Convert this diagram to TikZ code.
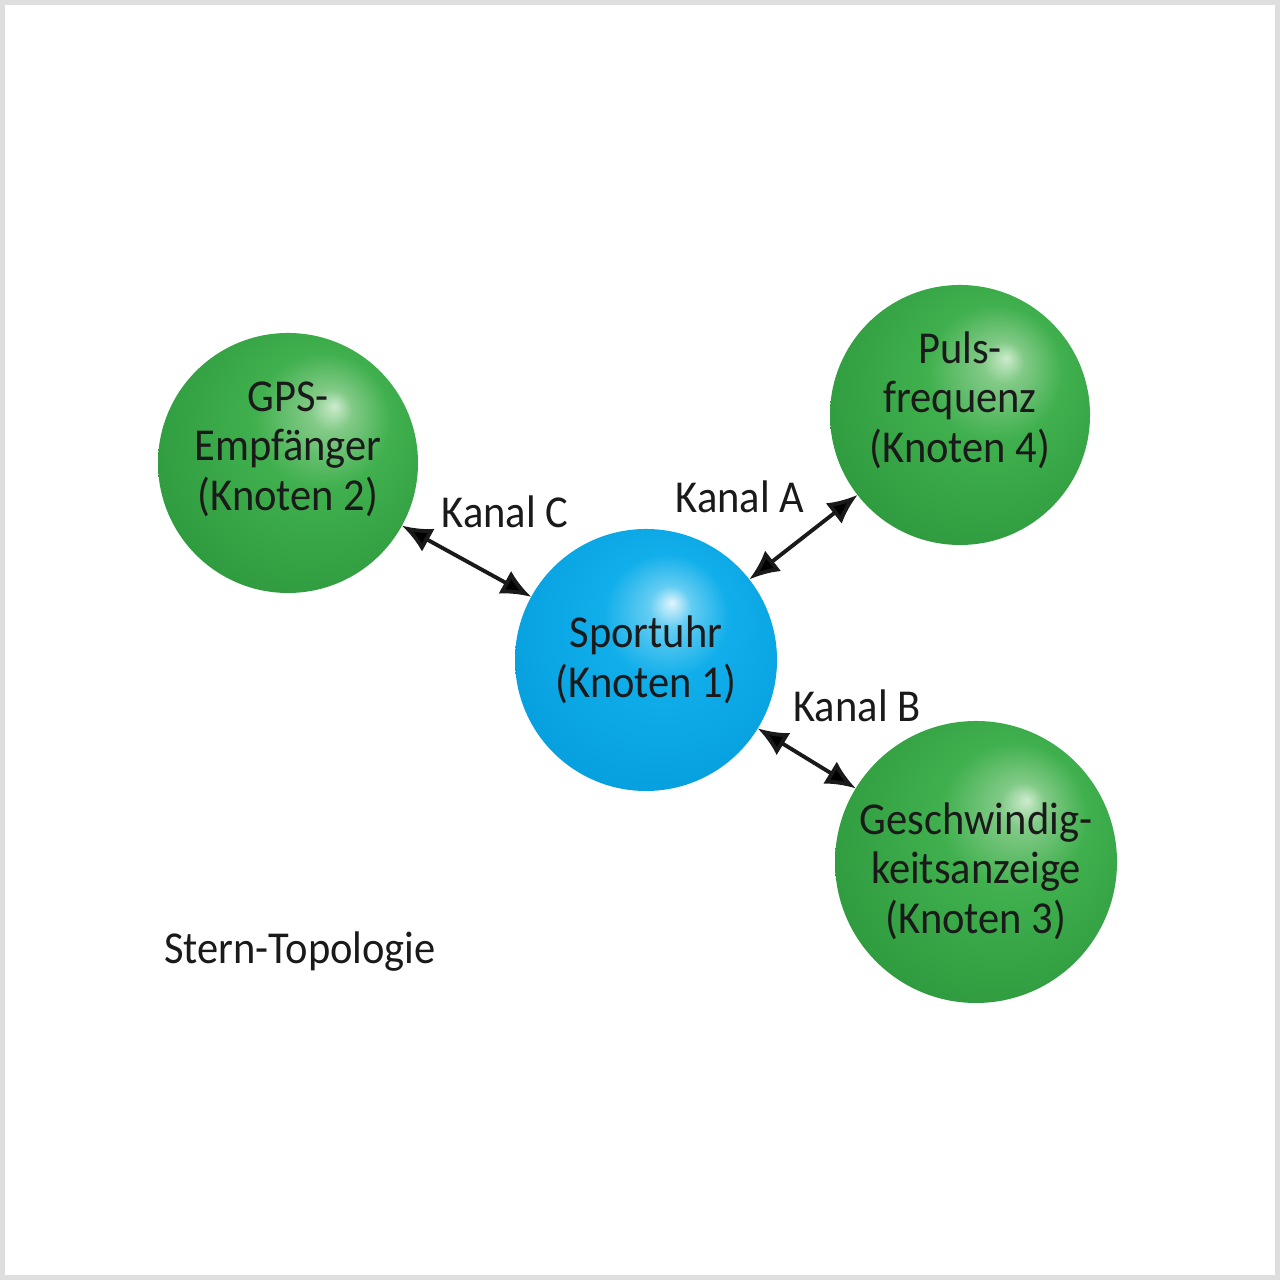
\documentclass[tikz,border=0pt]{standalone}
\usepackage{fontspec}
\setmainfont{Carlito}[FakeStretch=0.93]
\usetikzlibrary{positioning,arrows.meta}
\definecolor{txt}{RGB}{26,26,26}
\definecolor{rand}{RGB}{222,222,222}
\definecolor{gHi}{RGB}{205,235,205}
\definecolor{gLt}{RGB}{130,202,135}
\definecolor{gMain}{RGB}{64,176,78}
\definecolor{gEdge}{RGB}{46,154,62}
\definecolor{bHi}{RGB}{225,245,253}
\definecolor{bLt}{RGB}{100,205,242}
\definecolor{bMain}{RGB}{16,174,234}
\definecolor{bEdge}{RGB}{6,158,222}
\pgfdeclareradialshading{gball}{\pgfpoint{9bp}{11bp}}{color(0bp)=(gHi); color(4bp)=(gLt); color(13bp)=(gMain); color(32bp)=(gEdge); color(50bp)=(gEdge)}
\pgfdeclareradialshading{bball}{\pgfpoint{5bp}{11bp}}{color(0bp)=(bHi); color(4bp)=(bLt); color(12bp)=(bMain); color(32bp)=(bEdge); color(50bp)=(bEdge)}
\newcommand\hoch[2]{\raisebox{#1}[\height][\depth]{\begin{tabular}{@{}c@{}}#2\end{tabular}}}
\tikzset{
  knoten/.style={circle,inner sep=0pt,outer sep=0pt,align=center,text=txt,
    font=\fontsize{13}{14.2}\selectfont},
  gruen/.style={knoten,shading=gball},
  blau/.style={knoten,shading=bball},
  kanal/.style={text=txt,font=\fontsize{13}{14.2}\selectfont},
  link/.style={{Latex[length=3mm,width=2.6mm]}-{Latex[length=3mm,width=2.6mm]},
    line width=1.1pt,draw=txt}
}
\begin{document}
\begin{tikzpicture}[on grid]
% Rahmen
\useasboundingbox (0,0) rectangle (12.8,12.8);
\draw[rand,line width=0.5mm] (0.025,0.025) rectangle (12.775,12.775);
% Knoten
\node[blau,minimum size=2.62cm] (k_1) at (6.46,6.20) {Sportuhr\\(Knoten 1)};
\node[gruen,minimum size=2.6cm] (k_2) [above left=1.97cm and 3.58cm of k_1] {\hoch{1.2mm}{GPS-\\Empfänger\\(Knoten 2)}};
\node[gruen,minimum size=2.82cm] (k_3) [below right=2.02cm and 3.30cm of k_1] {\hoch{-1.2mm}{Geschwindig-\\keitsanzeige\\(Knoten 3)}};
\node[gruen,minimum size=2.6cm] (k_4) [above right=2.45cm and 3.14cm of k_1] {\hoch{1.2mm}{Puls-\\frequenz\\(Knoten 4)}};
% Kanaele
\node[kanal] (kan_a) [above right=1.63cm and 0.94cm of k_1] {Kanal A};
\node[kanal] (kan_b) [below right=0.46cm and 2.11cm of k_1] {Kanal B};
\node[kanal] (kan_c) [above left=1.48cm and 1.41cm of k_1] {Kanal C};
\path[link]
  (k_1) edge (k_4)
  (k_1) edge (k_3)
  (k_2) edge (k_1);
\node[kanal] (titel) [below left=2.92cm and 3.46cm of k_1] {Stern-Topologie};
\end{tikzpicture}
\end{document}
